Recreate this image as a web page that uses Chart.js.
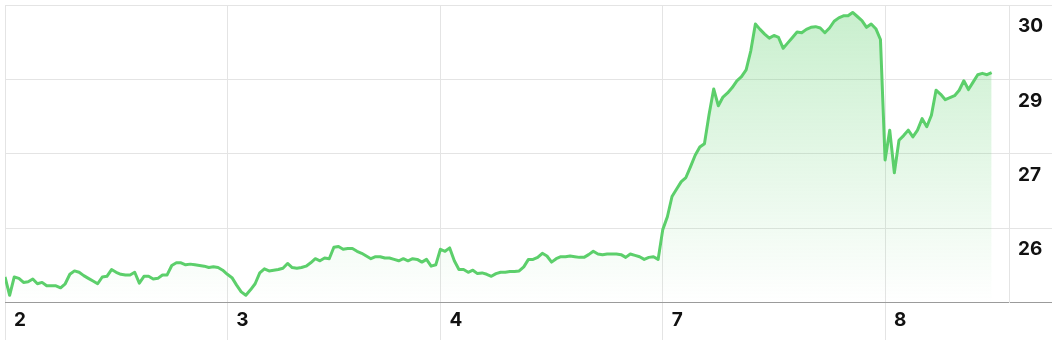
<!DOCTYPE html>
<html>
<head>
<meta charset="utf-8">
<script src="https://cdn.jsdelivr.net/npm/chart.js@4"></script>
<style>
  html, body { margin: 0; padding: 0; background: #fff; }
  #wrap { width: 1062px; height: 340px; position: relative; }
</style>
</head>
<body>
<div id="wrap"><canvas id="chart"></canvas></div>
<script>
// day labels and the bar index where each day starts
const dayLabels = ['2', '3', '4', '7', '8'];
const dayStarts = [0, 48, 94, 142, 190];

// price tick values and the labels shown for them
const priceTicks = [25.2, 26.3, 27.4, 28.5, 29.6];
const priceTickLabels = ['', '26', '27', '29', '30'];

// intraday prices, one per bar
const prices = [
  25.58, 25.31, 25.58, 25.56, 25.50, 25.51, 25.55, 25.48, 25.50, 25.45,
  25.45, 25.45, 25.42, 25.48, 25.62, 25.67, 25.65, 25.60, 25.56, 25.52,
  25.48, 25.58, 25.59, 25.69, 25.65, 25.62, 25.61, 25.61, 25.65, 25.49,
  25.59, 25.59, 25.55, 25.56, 25.61, 25.61, 25.75, 25.79, 25.79, 25.76,
  25.77, 25.76, 25.75, 25.74, 25.72, 25.73, 25.72, 25.68, 25.62, 25.57,
  25.46, 25.36, 25.31, 25.39, 25.48, 25.64, 25.70, 25.67, 25.68, 25.69,
  25.71, 25.78, 25.72, 25.71, 25.72, 25.74, 25.79, 25.85, 25.82, 25.86,
  25.85, 26.02, 26.03, 25.99, 26.00, 26.00, 25.96, 25.93, 25.89, 25.85,
  25.88, 25.88, 25.86, 25.86, 25.84, 25.82, 25.85, 25.82, 25.85, 25.84,
  25.80, 25.84, 25.74, 25.76, 25.99, 25.96, 26.01, 25.82, 25.69, 25.69,
  25.65, 25.68, 25.63, 25.64, 25.62, 25.59, 25.63, 25.65, 25.65, 25.66,
  25.66, 25.67, 25.73, 25.84, 25.84, 25.87, 25.93, 25.89, 25.80, 25.85,
  25.88, 25.88, 25.89, 25.88, 25.87, 25.87, 25.91, 25.96, 25.92, 25.91,
  25.92, 25.92, 25.92, 25.91, 25.87, 25.92, 25.90, 25.88, 25.84, 25.87,
  25.88, 25.84, 26.28, 26.47, 26.77, 26.88, 26.99, 27.05, 27.21, 27.38,
  27.50, 27.55, 27.98, 28.36, 28.11, 28.24, 28.30, 28.38, 28.48, 28.54,
  28.64, 28.92, 29.32, 29.24, 29.17, 29.11, 29.15, 29.12, 28.96, 29.04,
  29.12, 29.20, 29.19, 29.24, 29.27, 29.28, 29.26, 29.19, 29.26, 29.36,
  29.41, 29.44, 29.44, 29.49, 29.43, 29.37, 29.27, 29.32, 29.25, 29.09,
  27.31, 27.75, 27.12, 27.60, 27.67, 27.75, 27.65, 27.75, 27.92, 27.80,
  27.97, 28.34, 28.28, 28.20, 28.23, 28.26, 28.34, 28.48, 28.35, 28.46,
  28.57, 28.59, 28.57, 28.60
];

const lineColor = '#5ccf6b';
const gridColor = '#e4e4e4';
const axisColor = '#9b9b9b';

function fillGradient(context) {
  const area = context.chart.chartArea;
  if (!area) return 'rgba(92,207,107,0.2)';
  const g = context.chart.ctx.createLinearGradient(0, area.top, 0, area.bottom);
  g.addColorStop(0, 'rgba(92,207,107,0.34)');
  g.addColorStop(1, 'rgba(92,207,107,0.0)');
  return g;
}

const ctx = document.getElementById('chart').getContext('2d');
new Chart(ctx, {
  type: 'line',
  data: {
    datasets: [{
      data: prices.map((p, i) => ({ x: i, y: p })),
      borderColor: lineColor,
      borderWidth: 3,
      borderJoinStyle: 'round',
      backgroundColor: fillGradient,
      fill: 'start',
      pointRadius: 0,
      tension: 0
    }]
  },
  options: {
    responsive: true,
    maintainAspectRatio: false,
    animation: false,
    layout: { padding: { left: 5, top: 5, right: 0, bottom: 0 } },
    plugins: {
      legend: { display: false },
      tooltip: { enabled: false }
    },
    scales: {
      x: {
        type: 'linear',
        min: 0,
        max: 216.75,
        afterBuildTicks: (scale) => {
          scale.ticks = dayStarts.map(v => ({ value: v }));
        },
        afterFit: (scale) => {
          scale.height = 37.3;
          scale.paddingLeft = 0; scale.paddingRight = 0;
        },
        grid: {
          color: gridColor,
          tickColor: gridColor,
          tickLength: 38,
          drawTicks: true
        },
        border: { display: false },
        ticks: {
          autoSkip: false,
          maxRotation: 0,
          align: 'start',
          labelOffset: 9,
          padding: -32,
          color: '#111',
          font: { family: 'Inter', size: 19, weight: 'bold' },
          callback: (value, index) => dayLabels[index]
        }
      },
      y: {
        position: 'right',
        min: priceTicks[0],
        max: priceTicks[priceTicks.length - 1],
        afterBuildTicks: (scale) => {
          scale.ticks = priceTicks.map(v => ({ value: v }));
        },
        afterFit: (scale) => {
          scale.width = 53;
          scale.paddingTop = 0; scale.paddingBottom = 0;
        },
        grid: {
          color: (c) => (c.tick && c.tick.value === priceTicks[0]) ? axisColor : gridColor,
          tickColor: (c) => (c.tick && c.tick.value === priceTicks[0]) ? axisColor : gridColor,
          tickLength: 43,
          drawTicks: true
        },
        border: { display: true, color: gridColor },
        ticks: {
          labelOffset: 21.5,
          padding: -34,
          color: '#111',
          font: { family: 'Inter', size: 19, weight: 'bold' },
          callback: (value, index) => priceTickLabels[index]
        }
      }
    }
  }
});
</script>
</body>
</html>
